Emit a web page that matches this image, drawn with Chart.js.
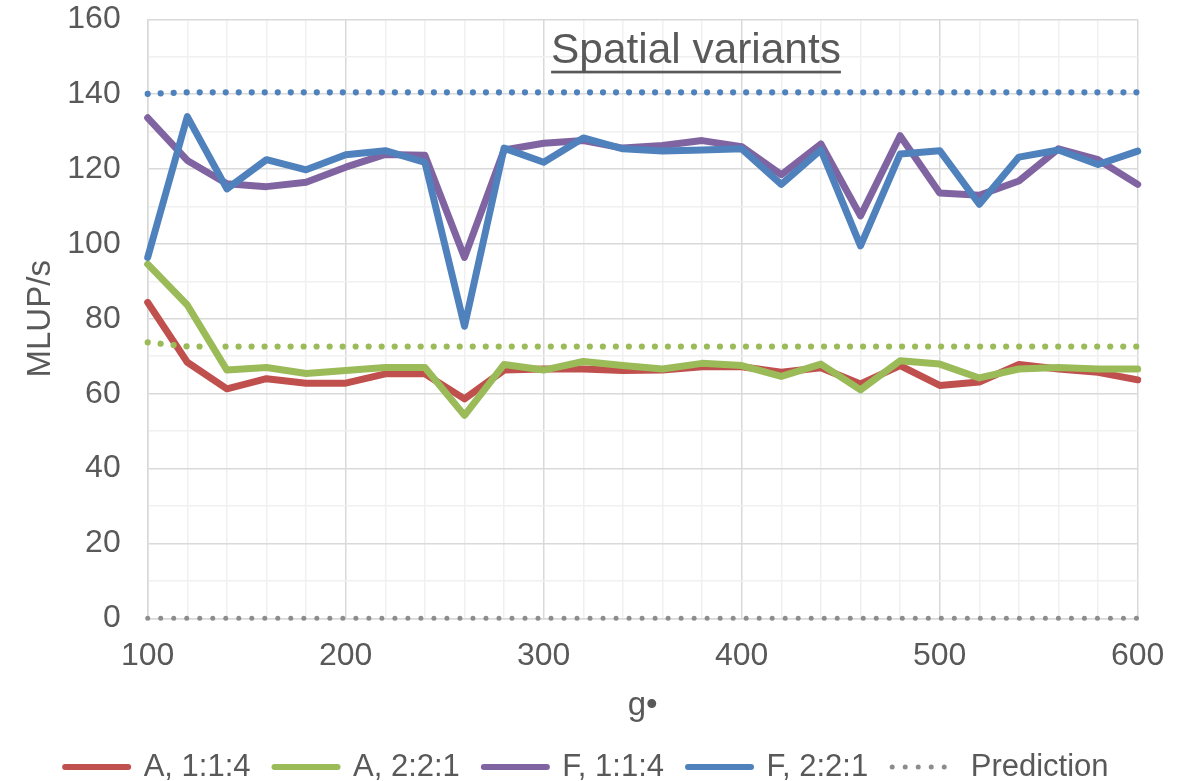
<!DOCTYPE html>
<html>
<head>
<meta charset="utf-8">
<title>Spatial variants</title>
<script src="https://cdn.jsdelivr.net/npm/chart.js@4/dist/chart.umd.min.js"></script>
<style>
  html, body { margin: 0; padding: 0; background: #ffffff; }
  #wrap { width: 1191px; height: 781px; position: relative; }
</style>
</head>
<body>
<div id="wrap"><canvas id="chart"></canvas></div>
<script>
// Block size g along the x axis
const gValues = [100, 120, 140, 160, 180, 200, 220, 240, 260, 280, 300, 320, 340,
                 360, 380, 400, 420, 440, 460, 480, 500, 520, 540, 560, 580, 600];

// Measured throughput (MLUP/s)
const a114 = [84.4, 68.4, 61.3, 64.0, 62.8, 62.8, 65.3, 65.3, 58.6, 66.3, 66.6, 66.6, 66.2,
              66.3, 67.2, 67.2, 65.7, 66.9, 62.6, 67.5, 62.2, 63.1, 67.8, 66.6, 65.7, 63.7];
const a221 = [94.6, 83.7, 66.3, 67.0, 65.4, 66.2, 67.0, 67.0, 54.2, 67.8, 66.3, 68.6, 67.5,
              66.6, 68.1, 67.5, 64.6, 67.9, 61.0, 68.8, 67.9, 64.2, 66.6, 67.0, 66.6, 66.6];
const f114 = [133.7, 122.3, 116.1, 115.3, 116.5, 120.5, 123.9, 123.7, 96.4, 125.1, 126.9, 127.6, 125.6,
              126.3, 127.6, 126.0, 118.5, 126.7, 107.5, 128.9, 113.6, 113.0, 116.8, 125.4, 122.5, 115.9];
const f221 = [96.4, 134.0, 114.7, 122.5, 119.8, 123.8, 124.9, 121.8, 78.0, 125.6, 121.8, 128.3, 125.4,
              124.8, 125.1, 125.4, 115.9, 125.1, 99.5, 124.0, 124.9, 110.6, 123.2, 125.1, 121.2, 124.8];

// Model predictions
const predictionF = [140.1, 140.5, 140.5, 140.5, 140.5, 140.5, 140.5, 140.5, 140.5, 140.5, 140.5, 140.5, 140.5,
                     140.5, 140.5, 140.5, 140.5, 140.5, 140.5, 140.5, 140.5, 140.5, 140.5, 140.5, 140.5, 140.5];
const predictionA = [73.7, 72.6, 72.6, 72.6, 72.6, 72.6, 72.6, 72.6, 72.6, 72.6, 72.6, 72.6, 72.6,
                     72.6, 72.6, 72.6, 72.6, 72.6, 72.6, 72.6, 72.6, 72.6, 72.6, 72.6, 72.6, 72.6];
const predictionKey = [0, 0, 0, 0, 0, 0, 0, 0, 0, 0, 0, 0, 0,
                       0, 0, 0, 0, 0, 0, 0, 0, 0, 0, 0, 0, 0];

const seriesLabels = ['A, 1:1:4', 'A, 2:2:1', 'F, 1:1:4', 'F, 2:2:1', 'Prediction'];
const chartTitle = 'Spatial variants';
const xTitle = 'g\u2022';
const yTitle = 'MLUP/s';
const xRange = [100, 600];
const yRange = [0, 160];
const xLabelStep = 100;
const yLabelStep = 20;

const FONT = "'Liberation Sans', Arial, sans-serif";
const TEXT = '#595959';
const RED = '#C0504D', GREEN = '#9BBB59', PURPLE = '#8064A2', BLUE = '#4F81BD', GREY = '#8C8C8C';

const pts = arr => gValues.map((g, i) => ({ x: g, y: arr[i] }));

function solid(label, data, color) {
  return {
    label, data: pts(data), borderColor: color, backgroundColor: color,
    borderWidth: 7, pointRadius: 0, tension: 0,
    borderCapStyle: 'round', borderJoinStyle: 'round', clip: false
  };
}
function dotted(label, data, color, width) {
  return {
    label, data: pts(data), borderColor: color, backgroundColor: color,
    borderWidth: width, pointRadius: 0, tension: 0,
    borderDash: [0.01, 13], borderCapStyle: 'round', clip: false
  };
}

// First dataset is painted last, so the list runs from top layer to bottom layer.
const datasets = [
  dotted(seriesLabels[4], predictionKey, GREY, 5),
  dotted('', predictionA, GREEN, 6.2),
  dotted('', predictionF, BLUE, 6.2),
  solid(seriesLabels[3], f221, BLUE),
  solid(seriesLabels[2], f114, PURPLE),
  solid(seriesLabels[1], a221, GREEN),
  solid(seriesLabels[0], a114, RED)
];

// Legend swatches take the dataset's own dash and round caps.
function legendItems(chart) {
  const base = Chart.defaults.plugins.legend.labels.generateLabels(chart);
  return base.map(item => {
    const ds = chart.data.datasets[item.datasetIndex];
    item.lineDash = ds.borderDash || [];
    item.lineCap = 'round';
    item.lineWidth = ds.borderDash ? 5 : 6;
    item.strokeStyle = ds.borderColor;
    return item;
  });
}

// Underlined heading inside the plot, plus a nudge of the legend row toward the bottom edge.
const underlinedTitle = {
  id: 'underlinedTitle',
  afterLayout(chart) {
    const lg = chart.legend;
    if (lg) {
      lg.top += 11.5; lg.bottom += 11.5;
      lg.left += 18; lg.right += 18;
    }
  },
  beforeDatasetsDraw(chart) {
    const { ctx } = chart;
    ctx.save();
    ctx.font = '42.4px ' + FONT;
    ctx.fillStyle = TEXT;
    ctx.textAlign = 'center';
    ctx.textBaseline = 'alphabetic';
    const cx = 696, baseY = 63.3;
    ctx.fillText(chartTitle, cx, baseY);
    const w = ctx.measureText(chartTitle).width;
    ctx.fillRect(cx - w / 2, baseY + 7.4, w, 2.7);
    ctx.restore();
  }
};

new Chart(document.getElementById('chart'), {
  type: 'line',
  data: { datasets },
  plugins: [underlinedTitle],
  options: {
    responsive: true,
    maintainAspectRatio: false,
    animation: false,
    devicePixelRatio: 1,
    layout: { padding: { left: 0, right: 53.3, top: 19.3, bottom: 0 } },
    plugins: {
      tooltip: { enabled: false },
      title: { display: false },
      legend: {
        position: 'bottom',
        reverse: true,
        labels: {
          generateLabels: legendItems,
          filter: item => item.text !== '',
          usePointStyle: true,
          pointStyle: 'line',
          pointStyleWidth: 63,
          padding: 24,
          color: TEXT,
          font: { family: FONT, size: 31 }
        }
      }
    },
    scales: {
      x: {
        type: 'linear',
        min: xRange[0], max: xRange[1],
        afterFit: s => { s.height = 97.7; s.paddingLeft = 10; s.paddingRight = 10; },
        border: { display: true, color: '#D9D9D9', width: 1.5 },
        grid: {
          drawTicks: false,
          lineWidth: 1.5,
          color: c => (c.tick && c.tick.value % xLabelStep === 0) ? '#D9D9D9' : '#F0F0F0'
        },
        ticks: {
          stepSize: 20, autoSkip: false, maxRotation: 0, padding: 19,
          color: TEXT, font: { family: FONT, size: 32 },
          callback: v => (v % xLabelStep === 0 ? String(v) : '')
        },
        title: {
          display: true, text: xTitle, color: TEXT,
          font: { family: FONT, size: 33 },
          padding: { top: 0, bottom: -9.4 }
        }
      },
      y: {
        type: 'linear',
        min: yRange[0], max: yRange[1],
        afterFit: s => { s.width = 147.7; s.paddingTop = 10; s.paddingBottom = 10; },
        border: { display: true, color: '#D9D9D9', width: 1.5 },
        grid: {
          drawTicks: false,
          lineWidth: 1.5,
          color: c => (c.tick && c.tick.value % yLabelStep === 0) ? '#D9D9D9' : '#F0F0F0'
        },
        ticks: {
          stepSize: 10, autoSkip: false, padding: 27,
          color: TEXT, font: { family: FONT, size: 32 },
          callback: v => (v % yLabelStep === 0 ? String(v) : '')
        },
        title: {
          display: true, text: yTitle, color: TEXT,
          font: { family: FONT, size: 33 },
          padding: { top: 21, bottom: 0 }
        }
      }
    }
  }
});
</script>
</body>
</html>
